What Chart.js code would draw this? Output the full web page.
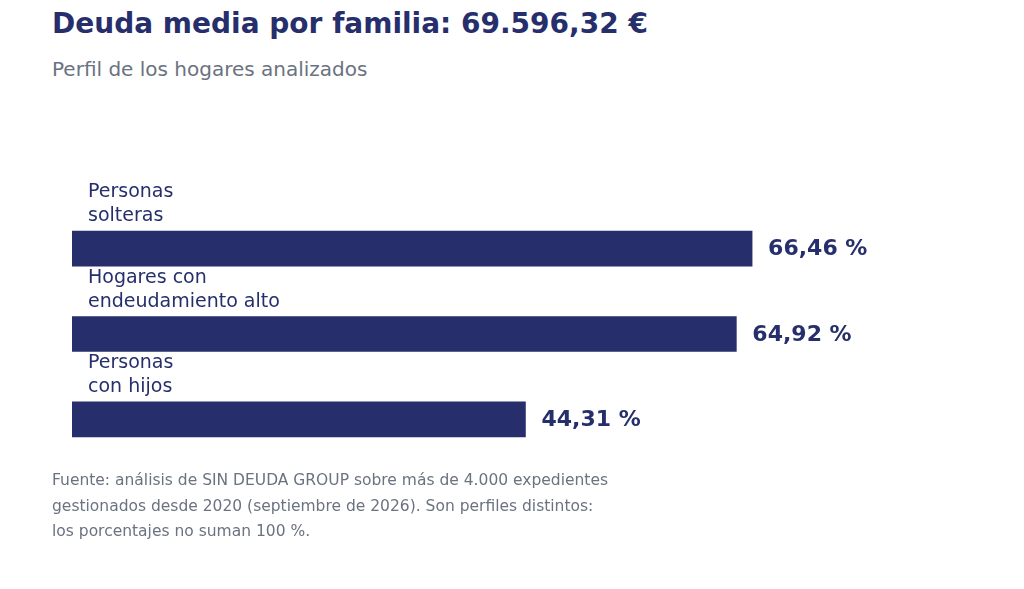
<!DOCTYPE html>
<html><head><meta charset="utf-8">
<script src="https://cdn.jsdelivr.net/npm/chart.js@4"></script>
<style>
body{margin:0;width:1024px;height:589px;position:relative;font-family:"DejaVu Sans",sans-serif;background:#fff;overflow:hidden}
#t{position:absolute;left:52px;top:7px;font-size:28px;font-weight:bold;color:#262f6b}
#s{position:absolute;left:52px;top:57px;font-size:20px;color:#6b7280}
#f{position:absolute;left:52px;top:468px;font-size:15.5px;line-height:25.5px;color:#6b7280}
#c{position:absolute;left:0;top:0}
</style></head><body>
<div id="t">Deuda media por familia: 69.596,32 €</div>
<div id="s">Perfil de los hogares analizados</div>
<canvas id="c" width="1024" height="589"></canvas>
<div id="f">Fuente: análisis de SIN DEUDA GROUP sobre más de 4.000 expedientes<br>gestionados desde 2020 (septiembre de 2026). Son perfiles distintos:<br>los porcentajes no suman 100 %.</div>
<script>
const categories=[["Personas","solteras"],["Hogares con","endeudamiento alto"],["Personas","con hijos"]];
const values=[66.46,64.92,44.31];
const valueLabels=["66,46 %","64,92 %","44,31 %"];
const color="#262f6b";
const labelPlugin={id:"lbl",afterDatasetsDraw(ch){
 const ctx=ch.ctx,meta=ch.getDatasetMeta(0);
 meta.data.forEach((b,i)=>{
  const top=b.y-b.height/2;
  ctx.save();ctx.fillStyle=color;
  ctx.font="19px 'DejaVu Sans'";ctx.textBaseline="alphabetic";ctx.textAlign="left";
  const lines=categories[i];
  lines.forEach((l,j)=>ctx.fillText(l,88,top-10-(lines.length-1-j)*24));
  ctx.font="bold 22px 'DejaVu Sans'";ctx.textBaseline="middle";
  ctx.fillText(valueLabels[i],b.x+16,b.y+1);
  ctx.restore();
 });
}};
new Chart(document.getElementById("c"),{type:"bar",
 data:{labels:categories.map(c=>c.join(" ")),datasets:[{data:values,backgroundColor:color,barThickness:35}]},
 options:{indexAxis:"y",responsive:false,animation:false,
  layout:{padding:{left:72,right:31,top:206,bottom:127}},
  scales:{x:{display:false,min:0,max:90},y:{display:false}},
  plugins:{legend:{display:false},tooltip:{enabled:false}}},
 plugins:[labelPlugin]});
</script></body></html>
